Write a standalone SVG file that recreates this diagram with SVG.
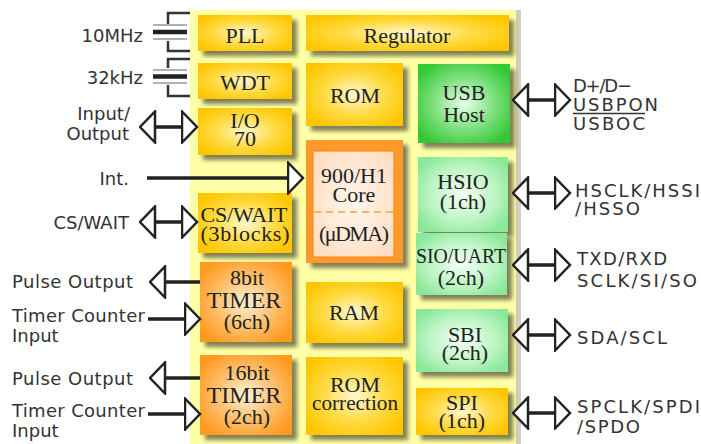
<svg xmlns="http://www.w3.org/2000/svg" width="701" height="444" viewBox="0 0 701 444">
<defs>
  <filter id="sh" x="-10%" y="-10%" width="130%" height="130%">
    <feDropShadow dx="5" dy="5" stdDeviation="2" flood-color="#55553a" flood-opacity="0.75"/>
  </filter>
  <radialGradient id="gY" cx="50%" cy="50%" r="60%">
    <stop offset="0" stop-color="#FFF8D0"/>
    <stop offset="0.55" stop-color="#FFDA40"/>
    <stop offset="1" stop-color="#FFC600"/>
  </radialGradient>
  <radialGradient id="gO" cx="50%" cy="50%" r="60%">
    <stop offset="0" stop-color="#FFF0D8"/>
    <stop offset="0.55" stop-color="#FFBE6A"/>
    <stop offset="1" stop-color="#FF9A1E"/>
  </radialGradient>
  <radialGradient id="gCore" cx="50%" cy="50%" r="65%">
    <stop offset="0" stop-color="#FFF6EE"/>
    <stop offset="1" stop-color="#FFDCC0"/>
  </radialGradient>
  <radialGradient id="gG" cx="50%" cy="50%" r="60%">
    <stop offset="0" stop-color="#E8FFE8"/>
    <stop offset="0.55" stop-color="#7EE07E"/>
    <stop offset="1" stop-color="#36C836"/>
  </radialGradient>
  <radialGradient id="gLG" cx="50%" cy="50%" r="60%">
    <stop offset="0" stop-color="#F4FFF4"/>
    <stop offset="0.6" stop-color="#BDF5C4"/>
    <stop offset="1" stop-color="#8BE89A"/>
  </radialGradient>
  <marker id="hd" viewBox="0 0 18 34" refX="16.5" refY="17" markerWidth="18" markerHeight="34" markerUnits="userSpaceOnUse" orient="auto-start-reverse">
    <path d="M1.5,1.5 L16.5,17 L1.5,32.5 Z" fill="#fff" stroke="#222" stroke-width="2.5" stroke-linejoin="miter"/>
  </marker>
</defs>
<style>
  .box{filter:url(#sh)}
  .y{fill:url(#gY)}
  .o{fill:url(#gO)}
  .g{fill:url(#gG)}
  .lg{fill:url(#gLG)}
  .bt{font-family:"Liberation Serif","Times New Roman",serif;font-size:22px;fill:#222;text-anchor:middle}
  .lb{font-family:"DejaVu Sans","Liberation Sans",sans-serif;font-size:18px;fill:#333}
  .lr{text-anchor:end}
  .sh{fill:none;stroke:#222;stroke-width:3.5}
  .br{fill:none;stroke:#333;stroke-width:2.5}
  .pt{stroke:#999;stroke-width:1.5}
  .pk{stroke:#222;stroke-width:4.5}
</style>
<rect width="701" height="444" fill="#fff"/>
<g id="chip">
  <rect x="190" y="10" width="328" height="440" fill="#FFFFA6"/>
  <rect x="516" y="10" width="5" height="440" fill="#CFCFBE"/>
</g>

<g id="xtal-10mhz">
  <path class="br" d="M190,13 H168 V24"/>
  <line class="pt" x1="153" y1="25" x2="187" y2="25"/>
  <line class="pk" x1="153" y1="32" x2="187" y2="32"/>
  <line class="pt" x1="153" y1="39" x2="187" y2="39"/>
  <path class="br" d="M168,41 V51 H190"/>
  <text class="lb lr" x="143" y="42">10MHz</text>
</g>
<g id="xtal-32khz">
  <path class="br" d="M190,59 H168 V68"/>
  <line class="pt" x1="153" y1="70" x2="187" y2="70"/>
  <line class="pk" x1="153" y1="76.5" x2="187" y2="76.5"/>
  <line class="pt" x1="153" y1="83" x2="187" y2="83"/>
  <path class="br" d="M168,85 V96 H190"/>
  <text class="lb lr" x="143" y="84">32kHz</text>
</g>

<g id="pll"><rect class="box y" x="198" y="15" width="94" height="36"/><text class="bt" x="245" y="43">PLL</text></g>
<g id="regulator"><rect class="box y" x="306" y="15" width="203" height="36"/><text class="bt" x="407" y="43">Regulator</text></g>
<g id="wdt"><rect class="box y" x="198" y="63" width="94" height="36"/><text class="bt" x="245" y="90">WDT</text></g>
<g id="io70"><rect class="box y" x="198" y="108" width="94" height="47"/><text class="bt" x="245" y="128">I/O</text><text class="bt" x="245" y="146">70</text></g>
<g id="rom"><rect class="box y" x="306" y="63" width="97" height="63"/><text class="bt" x="355" y="103">ROM</text></g>
<g id="usb-host"><rect class="box g" x="418" y="64" width="92" height="79"/><text class="bt" x="464" y="100">USB</text><text class="bt" x="464" y="122">Host</text></g>
<g id="core">
  <rect class="box" x="306" y="140" width="97" height="123" fill="#FF9A2A"/>
  <rect x="313" y="151" width="81" height="106" fill="url(#gCore)" stroke="#FF8A1A" stroke-width="1.2"/>
  <line x1="314" y1="212" x2="393" y2="212" stroke="#FF9A40" stroke-width="1.5" stroke-dasharray="7,5"/>
  <text class="bt" x="354" y="183">900/H1</text>
  <text class="bt" x="354" y="202">Core</text>
  <text class="bt" x="354" y="241" textLength="70">(μDMA)</text>
</g>
<g id="hsio"><rect class="box lg" x="418" y="157" width="90" height="75"/><text class="bt" x="463" y="189">HSIO</text><text class="bt" x="463" y="209">(1ch)</text></g>
<g id="cs-wait"><rect class="box y" x="198" y="193" width="94" height="60"/><text class="bt" x="244" y="222" textLength="87">CS/WAIT</text><text class="bt" x="245" y="241" textLength="89">(3blocks)</text></g>
<g id="sio-uart"><rect class="box lg" x="416" y="233" width="91" height="62"/><text class="bt" x="461" y="263" textLength="90" lengthAdjust="spacingAndGlyphs">SIO/UART</text><text class="bt" x="461" y="285">(2ch)</text></g>
<g id="timer8"><rect class="box o" x="200" y="262" width="92" height="80"/><text class="bt" x="247" y="285">8bit</text><text class="bt" x="244" y="308" style="font-size:24px">TIMER</text><text class="bt" x="247" y="329">(6ch)</text></g>
<g id="ram"><rect class="box y" x="306" y="282" width="97" height="61"/><text class="bt" x="354" y="320">RAM</text></g>
<g id="sbi"><rect class="box lg" x="416" y="309" width="92" height="63"/><text class="bt" x="465" y="342">SBI</text><text class="bt" x="465" y="360">(2ch)</text></g>
<g id="timer16"><rect class="box o" x="200" y="355" width="92" height="80"/><text class="bt" x="247" y="380">16bit</text><text class="bt" x="244" y="403" style="font-size:24px">TIMER</text><text class="bt" x="247" y="424">(2ch)</text></g>
<g id="rom-correction"><rect class="box y" x="306" y="357" width="97" height="78"/><text class="bt" x="355" y="392">ROM</text><text class="bt" x="355" y="410" textLength="86" lengthAdjust="spacingAndGlyphs">correction</text></g>
<g id="spi"><rect class="box y" x="416" y="388" width="92" height="47"/><text class="bt" x="462" y="410">SPI</text><text class="bt" x="462" y="428">(1ch)</text></g>

<g id="connectors">
  <path class="sh" d="M140,127 H197" marker-start="url(#hd)" marker-end="url(#hd)"/>
  <path class="sh" d="M147,178 H303" marker-end="url(#hd)"/>
  <path class="sh" d="M140,222 H197" marker-start="url(#hd)" marker-end="url(#hd)"/>
  <path class="sh" d="M200,282 H150" marker-end="url(#hd)"/>
  <path class="sh" d="M148,319 H200" marker-end="url(#hd)"/>
  <path class="sh" d="M200,378 H150" marker-end="url(#hd)"/>
  <path class="sh" d="M148,414 H200" marker-end="url(#hd)"/>
  <path class="sh" d="M513,100 H570" marker-start="url(#hd)" marker-end="url(#hd)"/>
  <path class="sh" d="M513,193 H570" marker-start="url(#hd)" marker-end="url(#hd)"/>
  <path class="sh" d="M513,265 H570" marker-start="url(#hd)" marker-end="url(#hd)"/>
  <path class="sh" d="M513,335 H570" marker-start="url(#hd)" marker-end="url(#hd)"/>
  <path class="sh" d="M513,413 H570" marker-start="url(#hd)" marker-end="url(#hd)"/>
</g>

<g id="labels">
  <text class="lb lr" x="130" y="120">Input/</text>
  <text class="lb lr" x="129" y="140">Output</text>
  <text class="lb lr" x="129" y="185">Int.</text>
  <text class="lb lr" x="129" y="229">CS/WAIT</text>
  <text class="lb" x="12" y="288" textLength="121">Pulse Output</text>
  <text class="lb" x="12" y="322" textLength="133">Timer Counter</text>
  <text class="lb" x="12" y="342">Input</text>
  <text class="lb" x="12" y="385" textLength="121">Pulse Output</text>
  <text class="lb" x="12" y="417" textLength="133">Timer Counter</text>
  <text class="lb" x="12" y="437">Input</text>
  <text class="lb" x="573" y="92" textLength="59">D+/D−</text>
  <text class="lb" x="573" y="111" textLength="85">USBPON</text>
  <line x1="573" y1="113.5" x2="645" y2="113.5" stroke="#333" stroke-width="1.5"/>
  <text class="lb" x="573" y="130" textLength="72">USBOC</text>
  <text class="lb" x="575" y="197" textLength="125">HSCLK/HSSI</text>
  <text class="lb" x="575" y="215" textLength="65">/HSSO</text>
  <text class="lb" x="577" y="265" textLength="90">TXD/RXD</text>
  <text class="lb" x="577" y="287" textLength="120">SCLK/SI/SO</text>
  <text class="lb" x="577" y="344" textLength="90">SDA/SCL</text>
  <text class="lb" x="577" y="413" textLength="123">SPCLK/SPDI</text>
  <text class="lb" x="577" y="433" textLength="63">/SPDO</text>
</g>
</svg>
